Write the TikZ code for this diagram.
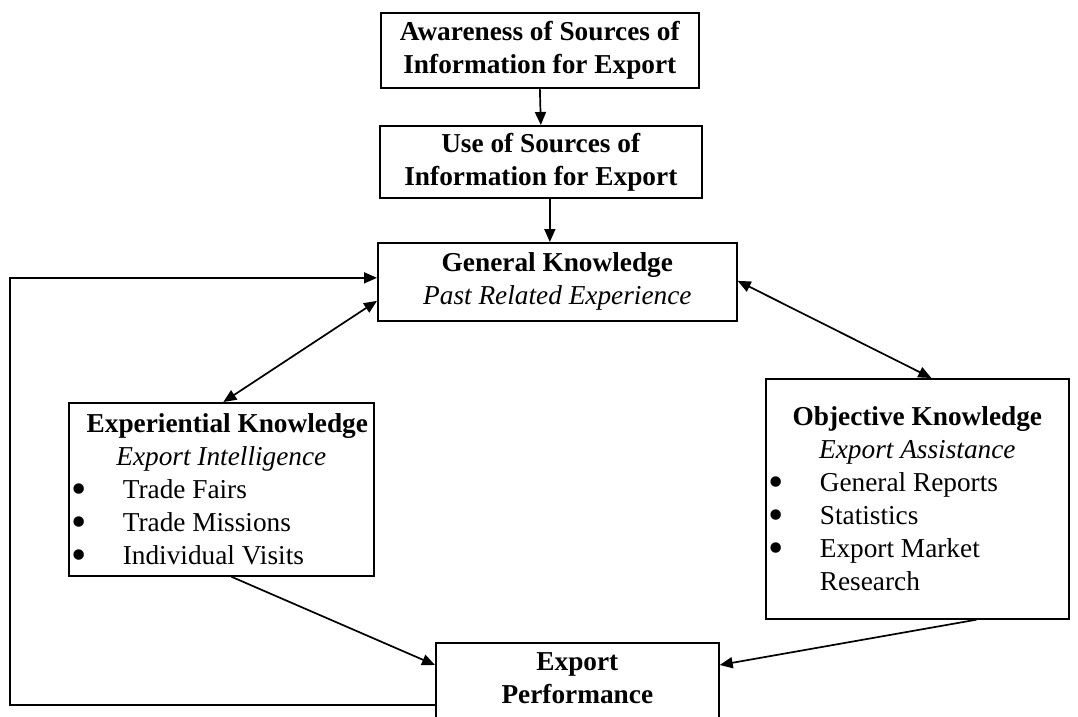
\documentclass[tikz,border=0pt]{standalone}
\usepackage{fontspec}
\usepackage{graphicx}
\setmainfont{Liberation Serif}
\usetikzlibrary{arrows.meta}
\newcommand\bigbullet{\smash{\raisebox{-4.5pt}{\scalebox{1.6}{\textbullet}}}}
\newcommand\bitem[1]{\hspace*{3pt}\makebox[51pt][l]{\bigbullet}#1}
\begin{document}
\begin{tikzpicture}[x=1pt,y=-1pt,
  box/.style={draw, line width=1.7pt, inner sep=0pt, align=center,
    font=\fontsize{27.3}{33}\selectfont},
  arr/.style={line width=1.7pt, -{Triangle[length=13pt,width=11pt]}},
  darr/.style={line width=1.7pt, {Triangle[length=13pt,width=11pt]}-{Triangle[length=13pt,width=11pt]}}]
  \useasboundingbox (0,0) rectangle (1078,716);
  \clip (0,0) rectangle (1078,716);

  % boxes
  \node[box, minimum width=318pt, minimum height=75pt, anchor=north west] (aw) at (380,12)
    {\textbf{Awareness of Sources of}\\\textbf{Information for Export}};
  \node[box, minimum width=322pt, minimum height=72pt, anchor=north west] (use) at (379,125)
    {\textbf{Use of Sources of}\\\textbf{Information for Export}};
  \node[box, minimum width=359pt, minimum height=78pt, anchor=north west] (gen) at (377,242)
    {\textbf{General Knowledge}\\\textit{Past Related Experience}};
  \node[box, minimum width=305pt, minimum height=173pt, anchor=north west] (exp) at (68,402)
    {\parbox{305pt}{\centering\hspace*{12pt}\textbf{Experiential Knowledge}\\\textit{Export Intelligence}\par
      \raggedright\bitem{Trade Fairs}\\\bitem{Trade Missions}\\\bitem{Individual Visits}}};
  \node[box, minimum width=303pt, minimum height=240pt, anchor=north west] (obj) at (765,378)
    {\parbox{303pt}{\centering\textbf{Objective Knowledge}\\\textit{Export Assistance}\par
      \raggedright\bitem{General Reports}\\\bitem{Statistics}\\\bitem{Export Market}\\
      \hspace*{54pt}Research}};
  \node[box, minimum width=283pt, minimum height=120pt, anchor=north west,
    text depth=50pt] (perf) at (435,642)
    {\textbf{Export}\\\textbf{Performance}};

  % connectors
  \draw[arr] (aw.south) -- (use.north);
  \draw[arr] ([xshift=9pt]use.south) -- ([xshift=9pt]use.south |- gen.north);
  \coordinate (fb) at (10,705);
  \coordinate (fbin) at ([yshift=4pt]gen.west);
  \draw[arr] (fb -| perf.west) -- (fb) -- (fb |- fbin) -- (fbin);
  \draw[darr] ([yshift=-19pt]gen.west) -- ([xshift=2pt]exp.north);
  \draw[darr] ([yshift=1pt]gen.east) -- ([xshift=14pt]obj.north);
  \draw[arr] ([xshift=10pt]exp.south) -- ([yshift=-23pt]perf.north west);
  \draw[arr] ([xshift=59pt]obj.south) -- ([yshift=-23pt]perf.north east);
\end{tikzpicture}
\end{document}
